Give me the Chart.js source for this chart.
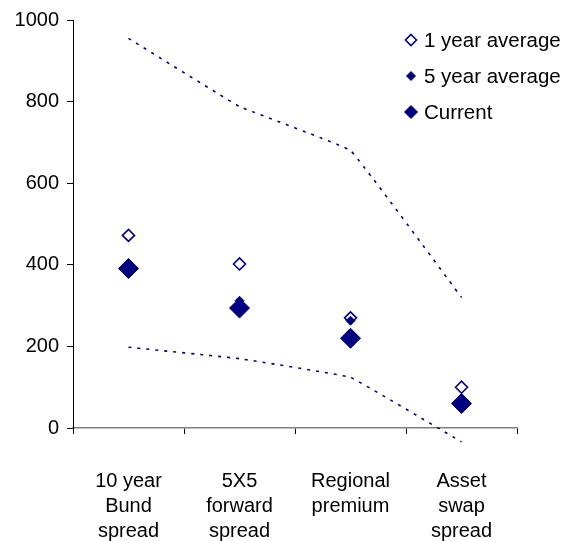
<!DOCTYPE html>
<html>
<head>
<meta charset="utf-8">
<script src="https://cdn.jsdelivr.net/npm/chart.js@4.4.1/dist/chart.umd.min.js"></script>
<style>
  html, body { margin: 0; padding: 0; background: #ffffff; }
  #wrap { width: 571px; height: 541px; position: relative; }
</style>
</head>
<body>
<div id="wrap"><canvas id="c" width="571" height="541"></canvas></div>
<script>
const categories = [
  ["10 year", "Bund", "spread"],
  ["5X5", "forward", "spread"],
  ["Regional", "premium"],
  ["Asset", "swap", "spread"]
];
const oneYearAverage = [472, 402, 270, 100];
const fiveYearAverage = [394, 312, 263, 62];
const currentValues = [391, 294, 220, 60];
const upperBand = [955, 788, 680, 320];
const lowerBand = [198, 170, 124, -34];
const yTicks = [0, 200, 400, 600, 800, 1000];

const NAVY = '#000080';
const FONT = "'Liberation Sans', Arial, sans-serif";

const legendPlugin = {
  id: 'customLegend',
  afterDraw(chart) {
    const ctx = chart.ctx;
    const rows = [40, 76, 112];
    const items = chart.data.datasets.filter(d => d.inLegend);
    items.forEach((ds, i) => {
      const y = rows[i];
      const r = ds.legendRadius;
      ctx.save();
      ctx.fillStyle = ds.pointBackgroundColor;
      ctx.strokeStyle = ds.pointBorderColor;
      ctx.lineWidth = ds.pointBorderWidth;
      ctx.beginPath();
      ctx.moveTo(411, y - r);
      ctx.lineTo(411 + r, y);
      ctx.lineTo(411, y + r);
      ctx.lineTo(411 - r, y);
      ctx.closePath();
      ctx.fill();
      ctx.stroke();
      ctx.fillStyle = '#000';
      ctx.font = '20.5px ' + FONT;
      ctx.textBaseline = 'middle';
      ctx.textAlign = 'left';
      ctx.fillText(ds.label, 424, y + 1);
      ctx.restore();
    });
  }
};

new Chart(document.getElementById('c'), {
  type: 'line',
  data: {
    labels: categories,
    datasets: [
      {
        label: 'upper',
        data: upperBand,
        borderColor: NAVY,
        borderWidth: 1.6,
        borderDash: [3, 6],
        pointRadius: 0,
        tension: 0.06,
        fill: false,
        clip: false,
        order: 5
      },
      {
        label: 'lower',
        data: lowerBand,
        borderColor: NAVY,
        borderWidth: 1.6,
        borderDash: [3, 6],
        pointRadius: 0,
        tension: 0.06,
        fill: false,
        clip: false,
        order: 4
      },
      {
        label: '1 year average',
        inLegend: true,
        data: oneYearAverage,
        showLine: false,
        pointStyle: 'rectRot',
        pointRadius: 6,
        legendRadius: 5.5,
        pointBackgroundColor: '#ffffff',
        pointBorderColor: NAVY,
        pointBorderWidth: 1.6,
        borderWidth: 1.6,
        order: 2
      },
      {
        label: '5 year average',
        inLegend: true,
        data: fiveYearAverage,
        showLine: false,
        pointStyle: 'rectRot',
        pointRadius: 4.5,
        legendRadius: 4.5,
        pointBackgroundColor: NAVY,
        pointBorderColor: NAVY,
        pointBorderWidth: 1,
        borderWidth: 1,
        order: 1
      },
      {
        label: 'Current',
        inLegend: true,
        data: currentValues,
        showLine: false,
        pointStyle: 'rectRot',
        pointRadius: 10,
        legendRadius: 6.5,
        pointBackgroundColor: NAVY,
        pointBorderColor: NAVY,
        pointBorderWidth: 1,
        borderWidth: 1,
        order: 3
      }
    ]
  },
  options: {
    responsive: false,
    animation: false,
    events: [],
    layout: { padding: { left: 0, top: 20, right: 54, bottom: 0 } },
    plugins: {
      legend: { display: false },
      tooltip: { enabled: false }
    },
    scales: {
      x: {
        type: 'category',
        offset: true,
        grid: {
          display: true,
          offset: true,
          drawOnChartArea: false,
          drawTicks: true,
          tickLength: 6,
          color: '#000000'
        },
        border: { display: true, color: '#808080', width: 1.5 },
        ticks: {
          color: '#000000',
          font: { family: FONT, size: 20, lineHeight: 1.25 },
          padding: 35,
          maxRotation: 0,
          minRotation: 0,
          autoSkip: false
        },
        afterFit(scale) { scale.height = 113; }
      },
      y: {
        min: 0,
        max: 1000,
        afterBuildTicks(scale) { scale.ticks = yTicks.map(v => ({ value: v })); },
        grid: {
          display: true,
          drawOnChartArea: false,
          drawTicks: true,
          tickLength: 6,
          color: '#000000'
        },
        border: { display: true, color: '#000000', width: 1 },
        ticks: {
          color: '#000000',
          font: { family: FONT, size: 20 },
          padding: 8,
          callback: (v) => String(v)
        },
        afterFit(scale) { scale.width = 73; }
      }
    }
  },
  plugins: [legendPlugin]
});
</script>
</body>
</html>
